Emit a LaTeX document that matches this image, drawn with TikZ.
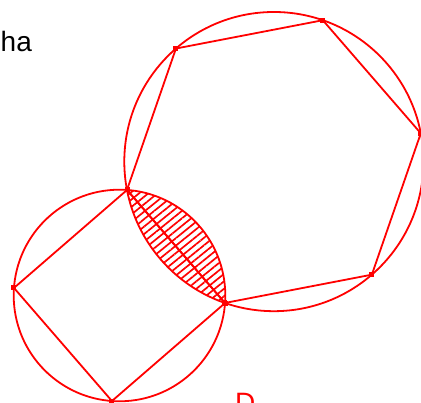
\documentclass[tikz,border=0pt]{standalone}
\usepackage{fontspec}
\setmainfont{Liberation Sans}
\usepackage{tikz}
\usetikzlibrary{calc, patterns.meta}
\definecolor{figred}{RGB}{255, 0, 0}

\begin{document}
\begin{tikzpicture}[x=1pt, y=1pt,
  edge/.style={draw=figred, line width=1.8pt},
  vmark/.style={rectangle, fill=figred, inner sep=0pt, minimum size=5pt},
  lbl/.style={font=\fontsize{28}{30}\selectfont, inner sep=0pt}]
  \useasboundingbox (0,0) rectangle (421,403);

  % centres of the two circles
  \coordinate (o1) at (119.5,107.5);
  \coordinate (o2) at (273.9,241.4);

  % square and hexagon corners
  \foreach \k in {0,...,3}
    \coordinate (s\k) at ($(o1)+({85.9+90*\k}:105.8)$);
  \foreach \k in {0,...,5}
    \coordinate (h\k) at ($(o2)+({190.9+60*\k}:149.6)$);

  % hatched lens
  \begin{scope}
    \clip (o1) circle (105.8);
    \fill[pattern={Lines[angle=39, distance=5.8pt, line width=1.7pt]},
          pattern color=figred] (o2) circle (149.6);
  \end{scope}

  \draw[edge] (o1) circle (105.8);
  \draw[edge] (o2) circle (149.6);
  \draw[edge] (s0) -- (s1) -- (s2) -- (s3) -- cycle;
  \draw[edge] (h0) -- (h1) -- (h2) -- (h3) -- (h4) -- (h5) -- cycle;

  % corner marks
  \foreach \k in {0,...,3}
    \node[vmark] (ms\k) at (s\k) {};
  \foreach \k in {0,...,5}
    \node[vmark] (mh\k) at (h\k) {};

  \node[lbl, anchor=base west] (ha) at (0.5,351) {ha};
  \node[lbl, anchor=base west, text=figred] (dlbl) at (235,-10) {D};
\end{tikzpicture}
\end{document}
